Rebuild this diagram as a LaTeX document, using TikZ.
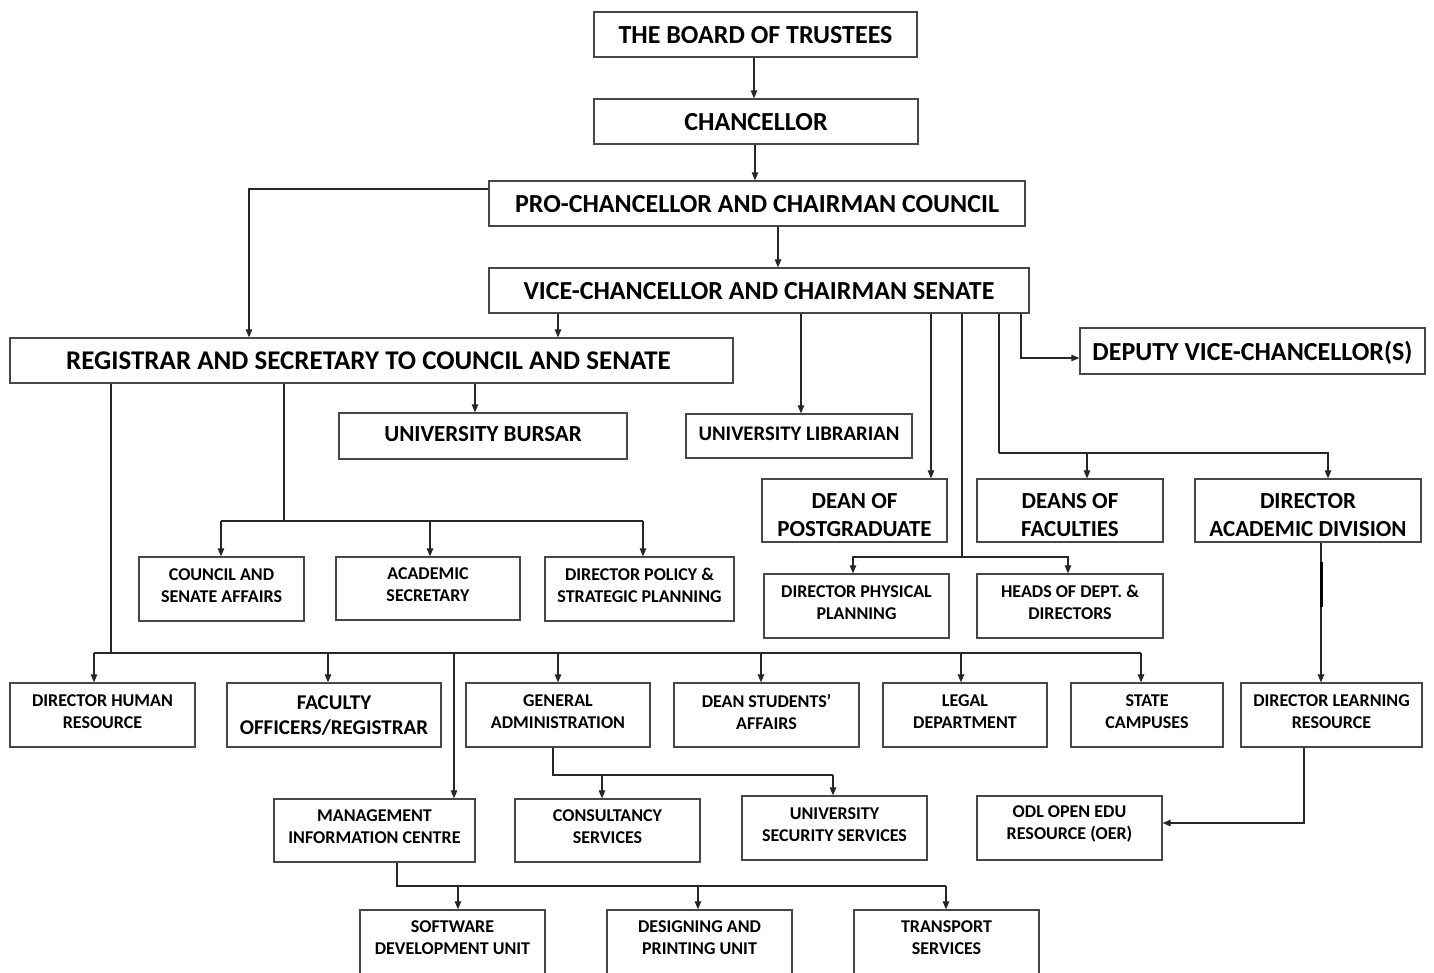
\documentclass[tikz,border=0pt]{standalone}
\usepackage{fontspec}
\setmainfont{Carlito}
\usetikzlibrary{arrows.meta}
\tikzset{
  box/.style={draw=black!72, line width=1.3pt, inner sep=0pt, align=center, fill=white,
              font=\bfseries\fontsize{18}{22}\selectfont, text depth=7pt},
  big/.style={font=\bfseries\fontsize{26}{30}\selectfont, text depth=0pt},
  mid/.style={font=\bfseries\fontsize{23}{28}\selectfont, text depth=0pt, text height=51pt},
  midone/.style={font=\bfseries\fontsize{23}{28}\selectfont, text depth=4pt},
  lib/.style={font=\bfseries\fontsize{20.7}{25}\selectfont, text depth=4pt},
  fac/.style={font=\bfseries\fontsize{21}{25}\selectfont, text depth=0pt},
  sz/.style n args={2}{minimum width=#1pt, minimum height=#2pt},
  ln/.style={line width=1.1pt, draw=black!85},
  arr/.style={ln, -{Triangle[length=8pt,width=6.5pt]}},
}
\begin{document}
\begin{tikzpicture}[x=1pt,y=-1pt]
\useasboundingbox (0,0) rectangle (1434,972);
\clip (0,0) rectangle (1434,972);
\fill[white] (0,0) rectangle (1434,972);

% ---------- boxes ----------
\node[box,big,sz={323}{45}] (board) at (755.5,34.5) {THE BOARD OF TRUSTEES};
\node[box,big,sz={324}{45}] (chan) at (756,121.5) {CHANCELLOR};
\node[box,big,sz={536}{45}] (pro) at (757,203.5) {PRO-CHANCELLOR AND CHAIRMAN COUNCIL};
\node[box,big,sz={540}{45}] (vc) at (759,290.5) {VICE-CHANCELLOR AND CHAIRMAN SENATE};
\node[box,big,sz={723}{45},font=\bfseries\fontsize{27}{30}\selectfont] (reg) at (371.5,360.5) {\hspace*{-6pt}REGISTRAR AND SECRETARY TO COUNCIL AND SENATE};
\node[box,big,sz={345}{46}] (dvc) at (1252.5,351) {DEPUTY VICE-CHANCELLOR(S)};
\node[box,midone,sz={288}{46}] (bursar) at (483,436) {UNIVERSITY BURSAR};
\node[box,lib,sz={226}{44}] (libr) at (799,436) {UNIVERSITY LIBRARIAN};
\node[box,mid,sz={185}{63}] (dpg) at (854.5,510.5) {DEAN OF\\POSTGRADUATE};
\node[box,mid,sz={186}{63}] (dof) at (1070,510.5) {DEANS OF\\FACULTIES};
\node[box,mid,sz={226}{63}] (dad) at (1308,510.5) {DIRECTOR\\ACADEMIC DIVISION};
\node[box,sz={165}{64}] (csa) at (221.5,589) {COUNCIL AND\\SENATE AFFAIRS};
\node[box,sz={184}{63}] (acs) at (428,588.5) {ACADEMIC\\SECRETARY};
\node[box,sz={189}{64},text depth=8pt] (dpol) at (639.5,589) {DIRECTOR POLICY \&\\STRATEGIC PLANNING};
\node[box,sz={185}{64}] (dpp) at (856.5,606) {DIRECTOR PHYSICAL\\PLANNING};
\node[box,sz={186}{64}] (hod) at (1070,606) {HEADS OF DEPT. \&\\DIRECTORS};
\node[box,sz={185}{64}] (dhr) at (102.5,715) {DIRECTOR HUMAN\\RESOURCE};
\node[box,fac,sz={214}{64}] (fo) at (334,715) {FACULTY\\OFFICERS/REGISTRAR};
\node[box,sz={184}{64}] (ga) at (558,715) {GENERAL\\ADMINISTRATION};
\node[box,sz={185}{64}] (dsa) at (766.5,715) {DEAN STUDENTS’\\AFFAIRS};
\node[box,sz={164}{64}] (legal) at (965,715) {LEGAL\\DEPARTMENT};
\node[box,sz={152}{64}] (state) at (1147,715) {STATE\\CAMPUSES};
\node[box,sz={181}{64}] (dlr) at (1331.5,715) {DIRECTOR LEARNING\\RESOURCE};
\node[box,sz={201}{63},text depth=8pt] (mic) at (374.5,830.5) {MANAGEMENT\\INFORMATION CENTRE};
\node[box,sz={185}{63}] (cons) at (607.5,830.5) {CONSULTANCY\\SERVICES};
\node[box,sz={185}{64}] (sec) at (834.5,828) {UNIVERSITY\\SECURITY SERVICES};
\node[box,sz={185}{64},text depth=10pt] (odl) at (1069.5,828) {ODL OPEN EDU\\RESOURCE (OER)};
\node[box,sz={185}{64},text depth=8pt] (soft) at (452.5,942) {SOFTWARE\\DEVELOPMENT UNIT};
\node[box,sz={185}{64},text depth=8pt] (des) at (699.5,942) {DESIGNING AND\\PRINTING UNIT};
\node[box,sz={185}{64},text depth=8pt] (trans) at (946.5,942) {TRANSPORT\\SERVICES};

% ---------- connectors ----------
\draw[arr] (board.south -| 754,0) -- (chan.north -| 754,0);
\draw[arr] (chan.south -| 755,0) -- (pro.north -| 755,0);
\draw[arr] (pro.south -| 778,0) -- (vc.north -| 778,0);
\draw[arr] (pro.west |- 0,189) -| (reg.north -| 249,0);
\draw[arr] (vc.south -| 558,0) -- (reg.north -| 558,0);
\draw[arr] (vc.south -| 801,0) -- (libr.north -| 801,0);
\draw[arr] (vc.south -| 931,0) -- (dpg.north -| 931,0);
% physical planning / heads
\coordinate (j1) at (962,557);
\draw[ln] (vc.south -| 962,0) -- (j1);
\draw[arr] (j1) -| (dpp.north -| 853,0);
\draw[arr] (j1) -| (hod.north -| 1068,0);
% deans / director academic
\coordinate (j2) at (999,453);
\draw[ln] (vc.south -| 999,0) -- (j2);
\draw[arr] (j2) -| (dof.north -| 1087,0);
\draw[arr] (j2) -| (dad.north -| 1328,0);
% deputy
\draw[arr] (vc.south -| 1021,0) |- (dvc.west |- 0,358);
% registrar branches
\draw[arr] (reg.south -| 475,0) -- (bursar.north -| 475,0);
\coordinate (j3) at (284,521);
\draw[ln] (reg.south -| 284,0) -- (j3);
\draw[ln] (221,521) -- (643,521);
\draw[arr] (j3 -| 221,0) -- (csa.north -| 221,0);
\draw[arr] (j3 -| 430,0) -- (acs.north -| 430,0);
\draw[arr] (j3 -| 643,0) -- (dpol.north -| 643,0);
% lower bus
\coordinate (j4) at (111,653);
\draw[ln] (reg.south -| 111,0) -- (j4);
\draw[ln] (94,653) -- (1141,653);
\draw[arr] (j4 -| 94,0) -- (dhr.north -| 94,0);
\draw[arr] (j4 -| 328,0) -- (fo.north -| 328,0);
\draw[arr] (j4 -| 454,0) -- (mic.north -| 454,0);
\draw[arr] (j4 -| 558,0) -- (ga.north -| 558,0);
\draw[arr] (j4 -| 761,0) -- (dsa.north -| 761,0);
\draw[arr] (j4 -| 961,0) -- (legal.north -| 961,0);
\draw[arr] (j4 -| 1141,0) -- (state.north -| 1141,0);
% general administration
\coordinate (j5) at (553,775);
\draw[ln] (ga.south -| 553,0) -- (j5) -- (833,775);
\draw[arr] (j5 -| 602,0) -- (cons.north -| 602,0);
\draw[arr] (j5 -| 833,0) -- (sec.north -| 833,0);
% MIC
\coordinate (j6) at (397,886);
\draw[ln] (mic.south -| 397,0) -- (j6) -- (946,886);
\draw[arr] (j6 -| 458,0) -- (soft.north -| 458,0);
\draw[arr] (j6 -| 698,0) -- (des.north -| 698,0);
\draw[arr] (j6 -| 946,0) -- (trans.north -| 946,0);
% director academic -> learning resource
\draw[arr] (dad.south -| 1321,0) -- (dlr.north -| 1321,0);
\draw[line width=3pt, draw=black] (1321,562) -- (1321,607);
% learning resource -> ODL
\draw[arr] (dlr.south -| 1304,0) |- (odl.east |- 0,823);
\end{tikzpicture}
\end{document}
